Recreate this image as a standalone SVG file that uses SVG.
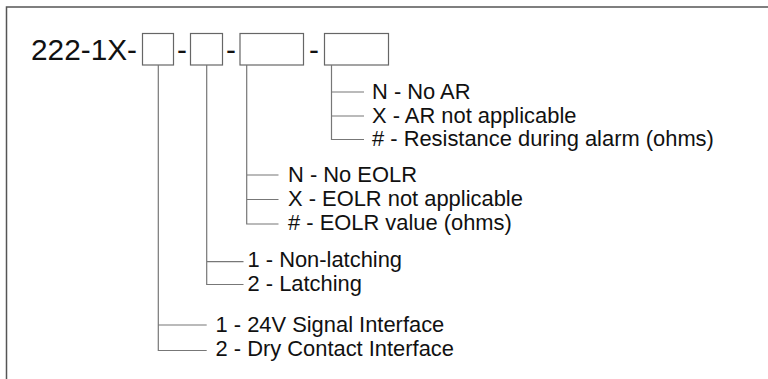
<svg xmlns="http://www.w3.org/2000/svg" width="768" height="379" viewBox="0 0 768 379">
<style>
.frame{fill:none;stroke:#555;stroke-width:1.5}
.box{fill:#fff;stroke:#666;stroke-width:1.2}
.ln{fill:none;stroke:#777;stroke-width:1.2}
.big{font-family:"Liberation Sans",Arial,sans-serif;font-size:29.8px;fill:#111}
.lbl{font-family:"Liberation Sans",Arial,sans-serif;font-size:21.9px;fill:#111}
</style>
<rect width="768" height="379" fill="#fff"/>
<path class="frame" d="M768,7 H6.5 V379"/>
<g id="code">
<text class="big" x="31" y="59.5">222-1X-</text>
<text class="big" x="182" y="59.5" text-anchor="middle">-</text>
<text class="big" x="231" y="59.5" text-anchor="middle">-</text>
<text class="big" x="314" y="59.5" text-anchor="middle">-</text>
</g>
<g id="box1"><rect class="box" x="142.5" y="33.5" width="31" height="31.5"/></g>
<g id="box2"><rect class="box" x="190.5" y="33.5" width="32" height="31.5"/></g>
<g id="box3"><rect class="box" x="240" y="33.5" width="63.5" height="31.5"/></g>
<g id="box4"><rect class="box" x="324.5" y="33.5" width="64" height="31.5"/></g>
<g id="connectors">
<path class="ln" d="M331.5,65 V139.5 H364 M331.5,92 H364 M331.5,116 H364"/>
<path class="ln" d="M246.7,65 V224 H278.5 M246.7,175 H278.5 M246.7,199.5 H278.5"/>
<path class="ln" d="M206.7,65 V284.5 H243.5 M206.7,261.7 H243.5"/>
<path class="ln" d="M158.3,65 V350.5 H206.7 M158.3,325 H206.7"/>
</g>
<g id="ar-options">
<text class="lbl" x="372" y="99.3">N - No AR</text>
<text class="lbl" x="372" y="122.8">X - AR not applicable</text>
<text class="lbl" x="372" y="146.3"># - Resistance during alarm (ohms)</text>
</g>
<g id="eolr-options">
<text class="lbl" x="288" y="182">N - No EOLR</text>
<text class="lbl" x="288" y="205.5">X - EOLR not applicable</text>
<text class="lbl" x="288" y="229.5"># - EOLR value (ohms)</text>
</g>
<g id="latch-options">
<text class="lbl" x="247.5" y="267">1 - Non-latching</text>
<text class="lbl" x="247.5" y="290.7">2 - Latching</text>
</g>
<g id="interface-options">
<text class="lbl" x="215.5" y="332">1 - 24V Signal Interface</text>
<text class="lbl" x="215.5" y="356">2 - Dry Contact Interface</text>
</g>
</svg>
